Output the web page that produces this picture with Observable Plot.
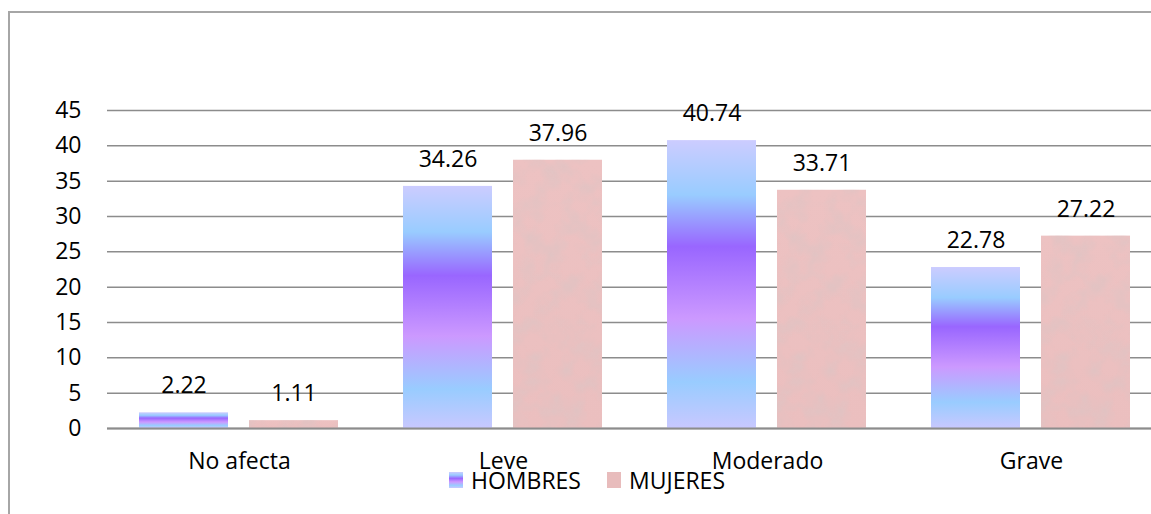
<!DOCTYPE html>
<html>
<head>
<meta charset="utf-8">
<script src="https://cdn.jsdelivr.net/npm/d3@7"></script>
<script src="https://cdn.jsdelivr.net/npm/@observablehq/plot@0.6"></script>
<style>
  html, body { margin: 0; padding: 0; background: #fff; overflow: hidden; }
  #wrap { position: relative; width: 1151px; height: 514px; font-family: "Open Sans", sans-serif; }
  #frame { position: absolute; left: 8px; top: 11px; width: 1200px; height: 600px;
           border-left: 2px solid #a6a6a6; border-top: 2px solid #a6a6a6; box-sizing: border-box; }
  #chart { position: absolute; left: 0; top: 0; }
  #legend { position: absolute; top: 466px; left: 0; width: 1151px; height: 28px; font-size: 23px; color: #000; }
  .item { position: absolute; top: 0; display: flex; align-items: center; height: 28px; }
  .sw { width: 14px; height: 16px; margin-right: 8px; }
</style>
</head>
<body>
<div id="wrap">
  <div id="frame"></div>
  <div id="chart"></div>
  <div id="legend"></div>
</div>
<script>
const categories = ["No afecta", "Leve", "Moderado", "Grave"];
const series = ["HOMBRES", "MUJERES"];
const hombres = [2.22, 34.26, 40.74, 22.78];
const mujeres = [1.11, 37.96, 33.71, 27.22];
const yTicks = [0, 5, 10, 15, 20, 25, 30, 35, 40, 45];

const rows = categories.flatMap((c, i) => [
  {cat: c, series: "HOMBRES", value: hombres[i]},
  {cat: c, series: "MUJERES", value: mujeres[i]}
]);

const font = "Open Sans, sans-serif";

const chart = Plot.plot({
  width: 1151,
  height: 514,
  marginTop: 110,
  marginBottom: 86,
  marginLeft: 107,
  marginRight: 0,
  style: {fontFamily: font, fontSize: "23px", color: "#000", background: "transparent", overflow: "visible"},
  fx: {domain: categories, range: [107, 1163], padding: 0, axis: null, label: null},
  x: {domain: series, paddingInner: 0.19, paddingOuter: 0.295, axis: null, label: null},
  y: {domain: [0, 45], axis: null, label: null},
  marks: [
    Plot.ruleY(yTicks, {y: d => d, stroke: "#8c8c8c", strokeWidth: 1.5}),
    Plot.barY(rows.filter(d => d.series === "HOMBRES"), {fx: "cat", x: "series", y: "value", fill: "url(#hgrad)"}),
    Plot.barY(rows.filter(d => d.series === "MUJERES"), {fx: "cat", x: "series", y: "value", fill: "url(#mgrad)"}),
    Plot.ruleY([0], {stroke: "#8c8c8c", strokeWidth: 2}),
    Plot.text(rows, {fx: "cat", x: "series", y: "value", text: d => d.value.toFixed(2), dy: -27, lineAnchor: "middle", fontSize: 23, fill: "#000"}),
    Plot.axisY(yTicks, {anchor: "left", tickSize: 0, tickPadding: 26, fontSize: 23, label: null}),
    Plot.axisFx({anchor: "bottom", tickSize: 0, tickPadding: 24, fontSize: 23, label: null})
  ]
});

document.getElementById("chart").appendChild(chart);

// gradient + texture definitions
const svg = d3.select(chart);
const defs = svg.insert("defs", ":first-child");
const hg = defs.append("linearGradient").attr("id", "hgrad").attr("x1", 0).attr("y1", 0).attr("x2", 0).attr("y2", 1);
[[0, "#ccccff"], [0.19, "#99ccff"], [0.37, "#9966ff"], [0.62, "#cc99ff"], [0.84, "#99ccff"], [1, "#c8c8ff"]]
  .forEach(([o, c]) => hg.append("stop").attr("offset", o).attr("stop-color", c));
const mg = defs.append("linearGradient").attr("id", "mgrad").attr("x1", 0).attr("y1", 0).attr("x2", 0).attr("y2", 1);
[[0, "#edc2c2"], [1, "#ebbfbf"]].forEach(([o, c]) => mg.append("stop").attr("offset", o).attr("stop-color", c));
const f = defs.append("filter").attr("id", "tex").attr("filterUnits", "objectBoundingBox")
  .attr("x", "0").attr("y", "0").attr("width", "1").attr("height", "1");
f.append("feTurbulence").attr("type", "fractalNoise").attr("baseFrequency", 0.05).attr("numOctaves", 3).attr("seed", 7).attr("result", "n");
f.append("feColorMatrix").attr("in", "n").attr("type", "matrix")
  .attr("values", "0 0 0 0 0.72  0 0 0 0 0.55  0 0 0 0 0.55  1.6 0 0 0 -0.62").attr("result", "spots");
f.append("feComposite").attr("in", "spots").attr("in2", "SourceGraphic").attr("operator", "in").attr("result", "s2");
const fm = f.append("feMerge");
fm.append("feMergeNode").attr("in", "SourceGraphic");
fm.append("feMergeNode").attr("in", "s2");
svg.selectAll("g").filter(function() { return this.getAttribute("fill") === "url(#mgrad)"; })
  .selectAll("rect").attr("filter", "url(#tex)");

// legend
const legend = document.getElementById("legend");
const items = [
  {name: series[0], left: 449, bg: "linear-gradient(#ccccff, #99ccff 19%, #9966ff 40%, #cc99ff 62%, #99ccff 84%, #c8c8ff)"},
  {name: series[1], left: 607, bg: "#e8bcbc"}
];
for (const it of items) {
  const el = document.createElement("div");
  el.className = "item";
  el.style.left = it.left + "px";
  const sw = document.createElement("div");
  sw.className = "sw";
  sw.style.background = it.bg;
  const tx = document.createElement("span");
  tx.textContent = it.name;
  el.appendChild(sw);
  el.appendChild(tx);
  legend.appendChild(el);
}
</script>
</body>
</html>
